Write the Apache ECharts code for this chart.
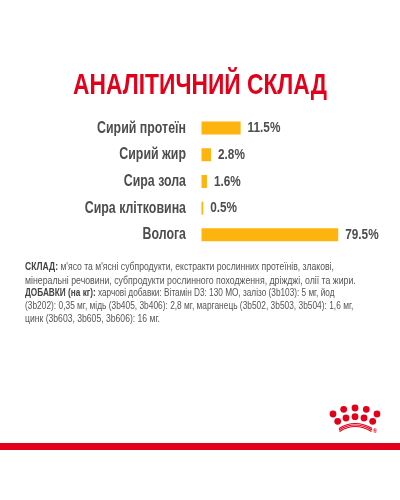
<!DOCTYPE html>
<html>
<head>
<meta charset="utf-8">
<style>html,body{margin:0;padding:0;background:#fff}#main{width:400px;height:500px}</style>
<script src="https://cdn.jsdelivr.net/npm/echarts@6/dist/echarts.min.js"></script>
</head>
<body>
<div id="main"></div>
<script>
var categories = ['Сирий протеїн', 'Сирий жир', 'Сира зола', 'Сира клітковина', 'Волога'];
var values = [11.5, 2.8, 1.6, 0.5, 79.5];
var titleText = 'АНАЛІТИЧНИЙ СКЛАД';
// the long bar is cut off in the original, so the axis stops before 79.5
var axisMax = 40.2;

var textLines = [
	'{b|СКЛАД:} м\'ясо та м\'ясні субпродукти, екстракти рослинних протеїнів, злакові,',
	'мінеральні речовини, субпродукти рослинного походження, дріжджі, олії та жири.',
	'{b|ДОБАВКИ (на кг):} харчові добавки: Вітамін D3: 130 МО, залізо (3b103): 5 мг, йод',
	'(3b202): 0,35 мг, мідь (3b405, 3b406): 2,8 мг, марганець (3b502, 3b503, 3b504): 1,6 мг,',
	'цинк (3b603, 3b605, 3b606): 16 мг.'
];
// each line is squeezed to its own width in the original
var lineScales = [0.82, 0.833, 0.785, 0.797, 0.82];
var lineTops = [262, 275.5, 288, 301, 314];

var FONT = '"Liberation Sans", sans-serif';
var RED = '#e2001a';
var GREY = '#4d4d4d';
var NARROW = 0.76; // no condensed font here, so text gets squeezed

// logo dots
var logoDots = [[333, 414], [343.7, 409.3], [355, 408], [366.3, 409.3], [377, 414], [337.7, 421.3], [346, 418], [355, 416.7], [364, 418], [372.7, 421.3]];
var graphics = [];
for (var i = 0; i < logoDots.length; i++) {
	graphics.push({
		type: 'circle',
		shape: { cx: logoDots[i][0], cy: logoDots[i][1], r: 3.4 },
		style: { fill: RED }
	});
}
var logoArcs = [[339, 428.5, 355, 418.5, 372], [339, 430, 355, 420, 372], [339.5, 431.5, 355, 421.5, 371.5]];
for (var j = 0; j < logoArcs.length; j++) {
	graphics.push({
		type: 'bezierCurve',
		shape: { x1: logoArcs[j][0], y1: logoArcs[j][1], cpx1: logoArcs[j][2], cpy1: logoArcs[j][3], x2: logoArcs[j][4], y2: logoArcs[j][1] },
		style: { fill: 'none', stroke: RED, lineWidth: 1.1 }
	});
}
graphics.push({
	type: 'text', x: 375, y: 431,
	style: { text: '®', font: 'bold 6px ' + FONT, fill: RED, textAlign: 'center', textVerticalAlign: 'middle' }
});
graphics.push({ type: 'rect', shape: { x: 0, y: 443, width: 400, height: 7 }, style: { fill: RED } });
graphics.push({
	type: 'text',
	x: 200,
	y: 71,
	scaleX: NARROW,
	style: {
		text: titleText,
		font: 'bold 30px ' + FONT,
		fill: RED,
		textAlign: 'center'
	}
});
for (var n = 0; n < textLines.length; n++) {
	graphics.push({
		type: 'text',
		x: 25,
		y: lineTops[n],
		scaleX: lineScales[n],
		style: {
			text: textLines[n],
			font: '10.5px ' + FONT,
			fill: '#555',
			rich: {
				b: { font: 'bold 10.5px ' + FONT, fill: '#444' }
			}
		}
	});
}

function renderLabels(params, api) {
	var idx = api.value(2);
	var y = api.coord([0, idx])[1];
	var barEnd = api.coord([Math.min(api.value(1), axisMax), idx])[0];
	return {
		type: 'group',
		children: [{
			type: 'text',
			x: api.coord([0, idx])[0] - 15.5,
			y: y,
			scaleX: NARROW,
			style: { text: categories[idx], font: 'bold 16.3px ' + FONT, fill: GREY, textAlign: 'right', textVerticalAlign: 'middle' }
		}, {
			type: 'text',
			x: barEnd + 7,
			y: y,
			scaleX: NARROW,
			style: { text: api.value(1) + '%', font: 'bold 15.5px ' + FONT, fill: GREY, textAlign: 'left', textVerticalAlign: 'middle' }
		}]
	};
}

var labelData = [];
for (var k = 0; k < values.length; k++) {
	labelData.push([0, values[k], k]);
}

var myChart = echarts.init(document.getElementById('main'));
myChart.setOption({
	animation: false,
	grid: { left: 201.5, top: 114.7, width: 136.7, height: 133.5, containLabel: false },
	xAxis: { type: 'value', min: 0, max: axisMax, show: false },
	yAxis: {
		type: 'category',
		inverse: true,
		data: categories,
		axisLine: { show: false },
		axisTick: { show: false },
		axisLabel: { show: false }
	},
	graphic: graphics,
	series: [{
		type: 'bar',
		data: values,
		barWidth: 13,
		itemStyle: { color: '#fdb40e' }
	}, {
		type: 'custom',
		renderItem: renderLabels,
		encode: { x: 1, y: 2 },
		data: labelData
	}]
});
</script>
</body>
</html>
